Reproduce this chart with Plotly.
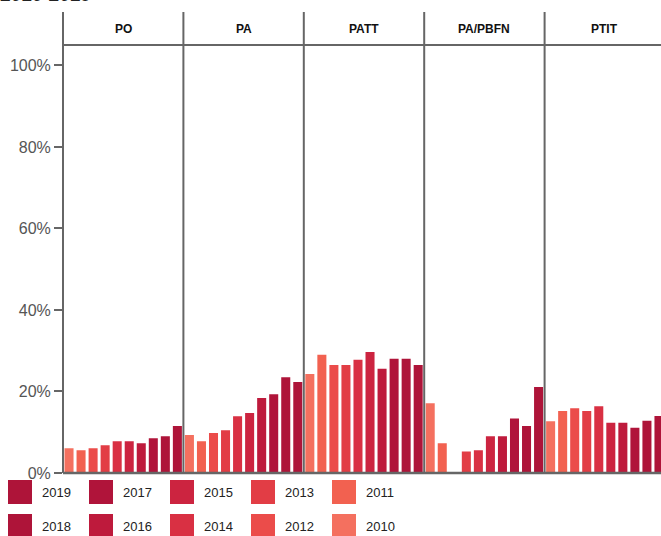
import plotly.graph_objects as go
from plotly.subplots import make_subplots

years = [2010, 2011, 2012, 2013, 2014, 2015, 2016, 2017, 2018, 2019]
panels = ["PO", "PA", "PATT", "PA/PBFN", "PTIT"]

po = [6.1, 5.6, 6.1, 6.8, 7.8, 7.8, 7.3, 8.5, 9.0, 11.5]
pa = [9.3, 7.8, 9.8, 10.5, 13.9, 14.7, 18.4, 19.3, 23.5, 22.3]
patt = [24.3, 29.0, 26.5, 26.5, 27.8, 29.7, 25.6, 28.0, 28.0, 26.5]
pa_pbfn = [17.1, 7.3, None, 5.3, 5.6, 9.0, 9.0, 13.4, 11.5, 21.1]
ptit = [12.7, 15.2, 15.9, 15.2, 16.4, 12.3, 12.3, 11.1, 12.8, 14.0]
panel_values = [po, pa, patt, pa_pbfn, ptit]

year_colors = ["#F4705F", "#F26150", "#EB4C4A", "#E23D45", "#D93043",
               "#CC2440", "#BE1A3C", "#B0143A", "#AE1439", "#AE1439"]

ytick_vals = [0, 20, 40, 60, 80, 100]
ytick_text = ["0%", "20%", "40%", "60%", "80%", "100%"]

W, H = 665, 536
ML, MR, MT, MB = 63, 0, 45, 63
PW = W - ML - MR
PH = H - MT - MB
FONT = "Arial, Liberation Sans, sans-serif"
LINE = "#666666"


def px_x(px):
    return (px - ML) / PW


def px_y(py):
    return (H - MB - py) / PH


fig = make_subplots(rows=1, cols=5, shared_yaxes=True, horizontal_spacing=0)

for i, vals in enumerate(panel_values):
    fig.add_trace(go.Bar(
        x=[str(y) for y in years], y=vals,
        marker=dict(color=year_colors, line=dict(width=0)),
        showlegend=False, hovertemplate="%{x}: %{y}%<extra></extra>",
    ), row=1, col=i + 1)
    fig.update_xaxes(showticklabels=False, showgrid=False, zeroline=False,
                     showline=False, ticks="", automargin=False,
                     row=1, col=i + 1)

fig.update_yaxes(range=[0, 105], showgrid=False, zeroline=False,
                 showline=False, automargin=False)
fig.update_yaxes(tickmode="array", tickvals=ytick_vals, ticktext=ytick_text,
                 ticks="outside", ticklen=8, tickwidth=1.5, tickcolor=LINE,
                 tickfont=dict(size=16, color="#555555", family=FONT),
                 row=1, col=1)

shapes = []
for k in range(5):
    shapes.append(dict(type="line", xref="paper", yref="paper",
                       x0=k / 5, x1=k / 5, y0=0, y1=px_y(12),
                       line=dict(color=LINE, width=2)))
shapes.append(dict(type="line", xref="paper", yref="paper", x0=0, x1=1,
                   y0=1, y1=1, line=dict(color=LINE, width=2)))
shapes.append(dict(type="line", xref="paper", yref="paper", x0=0, x1=1,
                   y0=0, y1=0, line=dict(color=LINE, width=2.5)))

annotations = []
for k, name in enumerate(panels):
    annotations.append(dict(text="<b>%s</b>" % name, xref="paper", yref="paper",
                            x=(k + 0.5) / 5, y=px_y(29), showarrow=False,
                            xanchor="center", yanchor="middle",
                            font=dict(size=12, color="#111111", family=FONT)))

annotations.append(dict(text="<b>2010-2019</b>", xref="paper", yref="paper",
                        x=px_x(-1), y=px_y(6), showarrow=False,
                        xanchor="left", yanchor="bottom", borderpad=0,
                        font=dict(size=19, color="#222222", family=FONT)))

legend_order = [[2019, 2018], [2017, 2016], [2015, 2014], [2013, 2012], [2011, 2010]]
for ci, col in enumerate(legend_order):
    for ri, yr in enumerate(col):
        x0 = 8 + 81 * ci
        y0 = 480 + 34 * ri
        color = year_colors[years.index(yr)]
        shapes.append(dict(type="rect", xref="paper", yref="paper",
                           x0=px_x(x0), x1=px_x(x0 + 24),
                           y0=px_y(y0 + 24), y1=px_y(y0),
                           fillcolor=color, line=dict(width=0)))
        annotations.append(dict(text=str(yr), xref="paper", yref="paper",
                                x=px_x(x0 + 32), y=px_y(y0 + 12),
                                showarrow=False, xanchor="left", yanchor="middle",
                                font=dict(size=13, color="#222222", family=FONT)))

fig.update_layout(
    width=W, height=H,
    margin=dict(l=ML, r=MR, t=MT, b=MB, autoexpand=False),
    paper_bgcolor="white", plot_bgcolor="white",
    bargap=0.25,
    shapes=shapes, annotations=annotations,
    font=dict(family=FONT),
)

fig.write_html("out.html", config={"displayModeBar": False},
               post_script="document.body.style.margin='0';"
                           "document.body.style.overflow='hidden';")
